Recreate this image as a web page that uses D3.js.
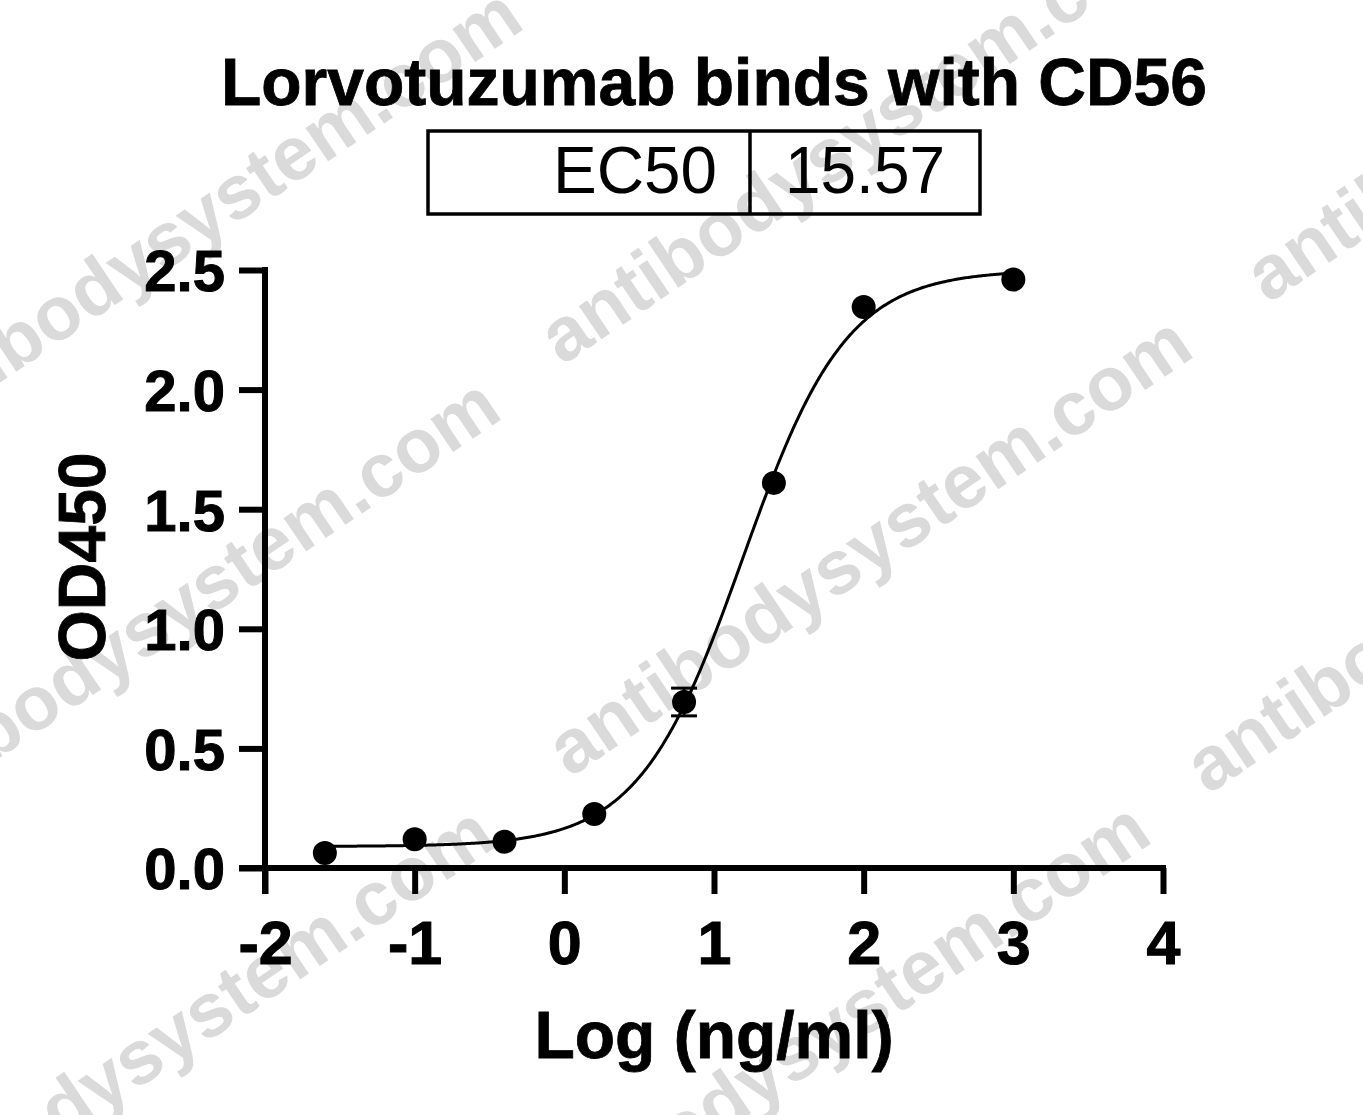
<!DOCTYPE html>
<html>
<head>
<meta charset="utf-8">
<script src="https://cdn.jsdelivr.net/npm/d3@7"></script>
<style>
  html, body { margin: 0; padding: 0; background: #fff; }
  svg { display: block; }
  text { font-family: "Liberation Sans", Arial, sans-serif; }
</style>
</head>
<body>
<svg id="chart" width="1363" height="1115"></svg>
<script>
// ---- data ----
const logConc = [-1.6, -1.0, -0.4, 0.2, 0.8, 1.4, 2.0, 3.0];
const od450   = [0.063, 0.12, 0.11, 0.226, 0.694, 1.61, 2.345, 2.46];
const odErr   = [0, 0, 0, 0, 0.058, 0, 0, 0];
const xTicks = [-2, -1, 0, 1, 2, 3, 4];
const yTicks = [0.0, 0.5, 1.0, 1.5, 2.0, 2.5];
// 4-parameter logistic fit (GraphPad style)
const fitBottom = 0.09, fitTop = 2.50, fitLogEC50 = Math.log10(15.57), fitHill = 1.25;
const titleText = "Lorvotuzumab binds with CD56";
const ec50Label = "EC50", ec50Value = "15.57";
const xLabel = "Log (ng/ml)", yLabel = "OD450";
const watermark = "antibodysystem.com";

const svg = d3.select("#chart");
svg.append("rect").attr("width", 1363).attr("height", 1115).attr("fill", "#fff");

// ---- watermarks ----
const wm = svg.append("g").attr("fill", "#dadada").attr("font-weight", "bold")
  .attr("font-size", 76);
const wmPos = [[-100, 450], [562, 366], [1268, 304], [-122, 840], [570, 778], [1208, 795], [-128, 1268], [528, 1264]];
wmPos.forEach(p => {
  wm.append("text").attr("transform", `translate(${p[0]},${p[1]}) rotate(-34)`)
    .text(watermark);
});

// ---- scales ----
const x = d3.scaleLinear().domain([-2, 4]).range([265, 1163]);
const y = d3.scaleLinear().domain([0, 2.5]).range([868, 270]);
const tickLen = 26, lw = 6;

// ---- axes ----
const xAxis = svg.append("g").attr("transform", `translate(0,${y(0)})`)
  .call(d3.axisBottom(x).tickValues(xTicks).tickSize(tickLen).tickSizeOuter(0)
        .tickPadding(27).tickFormat(d => String(d)));
const yAxis = svg.append("g").attr("transform", `translate(${x(-2)},0)`)
  .call(d3.axisLeft(y).tickValues(yTicks).tickSize(tickLen).tickSizeOuter(0)
        .tickPadding(14).tickFormat(d3.format(".1f")));
[xAxis, yAxis].forEach(a => {
  a.select(".domain").remove();
  a.selectAll(".tick line").attr("stroke", "#000").attr("stroke-width", lw);
  a.selectAll(".tick text").attr("fill", "#000").attr("font-weight", "bold")
    .attr("font-family", "'Liberation Sans', Arial, sans-serif")
    .attr("stroke", "#000").attr("stroke-width", 1);
});
xAxis.selectAll(".tick text").attr("font-size", 61);
yAxis.selectAll(".tick text").attr("font-size", 58).attr("dy", "0.36em");

// axis lines (extend to meet tick ends)
svg.append("line").attr("x1", x(-2)).attr("x2", x(-2))
  .attr("y1", y(2.5) - lw / 2).attr("y2", y(0) + tickLen)
  .attr("stroke", "#000").attr("stroke-width", lw);
svg.append("line").attr("x1", x(-2) - tickLen).attr("x2", x(4) + lw / 2)
  .attr("y1", y(0)).attr("y2", y(0))
  .attr("stroke", "#000").attr("stroke-width", lw);

// ---- fitted curve ----
const f = v => fitBottom + (fitTop - fitBottom) / (1 + Math.pow(10, (fitLogEC50 - v) * fitHill));
const curveX = d3.range(d3.min(logConc), d3.max(logConc) + 1e-9, 0.01);
svg.append("path")
  .datum(curveX)
  .attr("fill", "none").attr("stroke", "#000").attr("stroke-width", 3)
  .attr("d", d3.line().x(d => x(d)).y(d => y(f(d))));

// ---- error bars ----
const pts = logConc.map((c, i) => ({ c, v: od450[i], e: odErr[i] }));
const eb = svg.append("g").attr("stroke", "#000").attr("stroke-width", 3);
pts.filter(p => p.e > 0).forEach(p => {
  eb.append("line").attr("x1", x(p.c)).attr("x2", x(p.c)).attr("y1", y(p.v - p.e)).attr("y2", y(p.v + p.e));
  [p.v - p.e, p.v + p.e].forEach(yy => {
    eb.append("line").attr("x1", x(p.c) - 13).attr("x2", x(p.c) + 13).attr("y1", y(yy)).attr("y2", y(yy));
  });
});

// ---- points ----
svg.append("g").selectAll("circle").data(pts).join("circle")
  .attr("cx", d => x(d.c)).attr("cy", d => y(d.v)).attr("r", 12).attr("fill", "#000");

// ---- title ----
svg.append("text").attr("x", 714).attr("y", 105).attr("text-anchor", "middle")
  .attr("font-size", 66).attr("font-weight", "bold").attr("fill", "#000")
  .attr("stroke", "#000").attr("stroke-width", 0.8)
  .attr("textLength", 986).attr("lengthAdjust", "spacingAndGlyphs")
  .text(titleText);

// ---- EC50 box ----
const box = svg.append("g");
box.append("rect").attr("x", 428).attr("y", 131).attr("width", 552).attr("height", 83)
  .attr("fill", "none").attr("stroke", "#000").attr("stroke-width", 3.5);
box.append("line").attr("x1", 750).attr("x2", 750).attr("y1", 131).attr("y2", 214)
  .attr("stroke", "#000").attr("stroke-width", 3.5);
box.append("text").attr("x", 717).attr("y", 193).attr("text-anchor", "end")
  .attr("font-size", 67).attr("fill", "#000")
  .attr("textLength", 164).attr("lengthAdjust", "spacingAndGlyphs").text(ec50Label);
box.append("text").attr("x", 785).attr("y", 193).attr("text-anchor", "start")
  .attr("font-size", 67).attr("fill", "#000")
  .attr("textLength", 160).attr("lengthAdjust", "spacingAndGlyphs").text(ec50Value);

// ---- axis labels ----
svg.append("text").attr("x", 714).attr("y", 1058).attr("text-anchor", "middle")
  .attr("font-size", 66).attr("font-weight", "bold").attr("fill", "#000")
  .attr("stroke", "#000").attr("stroke-width", 0.8).text(xLabel);
svg.append("text").attr("transform", "translate(105,557) rotate(-90)").attr("text-anchor", "middle")
  .attr("font-size", 66).attr("font-weight", "bold").attr("fill", "#000")
  .attr("stroke", "#000").attr("stroke-width", 0.8).text(yLabel);
</script>
</body>
</html>
